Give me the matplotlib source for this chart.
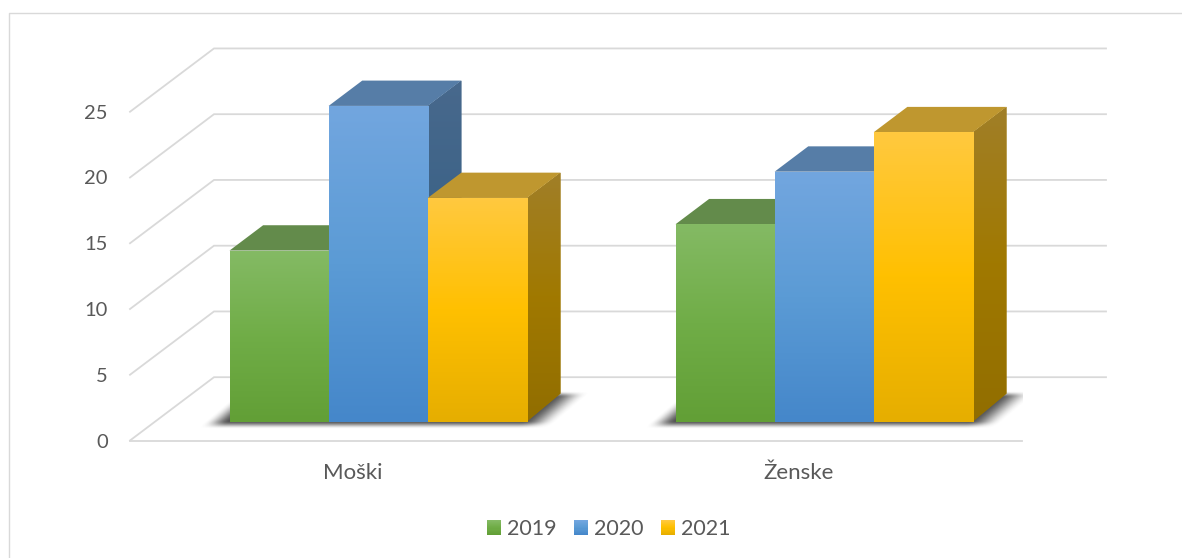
import numpy as np
import matplotlib
matplotlib.use("Agg")
import matplotlib.pyplot as plt
from matplotlib.colors import LinearSegmentedColormap
from matplotlib.legend_handler import HandlerBase
from matplotlib.lines import Line2D
from matplotlib.patches import Polygon, Rectangle

categories = ["Moški", "Ženske"]
years = ["2019", "2020", "2021"]
values_2019 = [13, 15]
values_2020 = [24, 19]
values_2021 = [17, 22]
y_ticks = [0, 5, 10, 15, 20, 25]

plt.rcParams["font.family"] = ["Lato", "DejaVu Sans"]

GRID = "#D9D9D9"
TEXT = "#595959"
BAR_W = 1 / 4.5
DEPTH_X = 84 / 446
DEPTH_Y = 63.3 / 13.15
FRONT = 0.3
BACK = 0.7
Y_MAX = 30  # room above the front plane for the back wall

# top, middle, bottom of the vertical gradient on each series
gradients = [
    ["#84BA64", "#70AD47", "#629F36"],
    ["#72A6DF", "#5B9BD5", "#4587CA"],
    ["#FFC93F", "#FFC000", "#E6AE00"],
]


def darker(cmap, factor):
    pts = [tuple(c * factor for c in cmap(v)[:3]) for v in (0.0, 0.5, 1.0)]
    return LinearSegmentedColormap.from_list("dark", pts)


def draw_gradient(ax, cmap, extent, clip, zorder):
    img = np.linspace(0, 1, 128).reshape(-1, 1)
    im = ax.imshow(img, cmap=cmap, extent=extent, aspect="auto", origin="upper", zorder=zorder,
                   vmin=0, vmax=1, interpolation="bilinear")
    im.set_clip_path(clip)


def smooth(t):
    t = np.clip(t, 0, 1)
    return t * t * (3 - 2 * t)


def draw_shadow(ax, x_left, x_right):
    # soft sheared shadow on the floor, under one group of bars
    base = FRONT * DEPTH_Y
    y0, y1 = base - 0.6, base + 0.4 * DEPTH_Y + 0.3
    px_x = 1 / 446
    x0, x1 = x_left - 40 * px_x, x_right + 90 * px_x
    xs = np.linspace(x0, x1, 500)
    ys = np.linspace(y0, y1, 120)
    xx, yy = np.meshgrid(xs, ys)
    depth = (yy - base) * 13.15 * 1.2 * px_x
    left = smooth((xx - depth - (x_left - 25 * px_x)) / (26 * px_x))
    right = smooth(((x_right + 30 * px_x) - (xx - depth)) / (34 * px_x))
    front = smooth((yy - y0) / 0.6)
    back = smooth((y1 - yy) / 0.45)
    rgba = np.zeros(xx.shape + (4,))
    rgba[..., :3] = 0.22
    rgba[..., 3] = 0.88 * left * right * front * back
    ax.imshow(rgba, extent=(x0, x1, y0, y1), origin="lower", aspect="auto", zorder=3)


class GradientHandle(HandlerBase):
    def create_artists(self, legend, orig, xdescent, ydescent, width, height, fontsize, trans):
        cmap = orig.cmap
        n = 14
        parts = []
        for i in range(n):
            parts.append(Rectangle((-xdescent, -ydescent + height * i / n), width, height / n + 0.3,
                                   facecolor=cmap(1 - i / (n - 1)), edgecolor="none", transform=trans))
        return parts


fig = plt.figure(figsize=(11.82, 5.58), dpi=100)
ax = fig.add_axes([130 / 1182, 1 - 440.5 / 558, 892 / 1182, Y_MAX * 13.15 / 558])
ax.set_autoscale_on(False)
ax.set_xlim(-0.5, 1.5)
ax.set_ylim(0, Y_MAX)

# back wall, side wall and floor
for v in y_ticks:
    ax.plot([-0.5, -0.5 + DEPTH_X, 1.5 + DEPTH_X], [v, v + DEPTH_Y, v + DEPTH_Y],
            color=GRID, lw=1.3, clip_on=False, zorder=1, solid_joinstyle="miter")
ax.plot([-0.5, 1.5], [0, 0], color=GRID, lw=1.3, clip_on=False, zorder=1)

x = np.arange(len(categories))
series = [values_2019, values_2020, values_2021]
cmaps = [LinearSegmentedColormap.from_list(y, [g[0], g[1], g[2]]) for y, g in zip(years, gradients)]

for c in x:
    draw_shadow(ax, c - 1.5 * BAR_W + FRONT * DEPTH_X, c + 1.5 * BAR_W + FRONT * DEPTH_X)

z = 4
for s, vals in enumerate(series):
    for c, v in zip(x, vals):
        xc = c + (s - 1) * BAR_W + FRONT * DEPTH_X
        rect = ax.bar(xc, v, BAR_W, bottom=FRONT * DEPTH_Y, color=gradients[s][1], zorder=z)[0]
        l, r = rect.get_x(), rect.get_x() + rect.get_width()
        b, t = rect.get_y(), rect.get_y() + rect.get_height()
        dx = (BACK - FRONT) * DEPTH_X
        dy = (BACK - FRONT) * DEPTH_Y

        side = Polygon([(r, t), (r + dx, t + dy), (r + dx, b + dy + 0.2), (r, b)], closed=True,
                       facecolor=darker(cmaps[s], 0.62)(0.5), edgecolor="none", zorder=z)
        ax.add_patch(side)
        draw_gradient(ax, darker(cmaps[s], 0.63), (r, r + dx, b, t + dy), side, z)

        ax.add_patch(Polygon([(l, t), (l + dx, t + dy), (r + dx, t + dy), (r, t)], closed=True,
                             facecolor=darker(cmaps[s], 0.75)(0.0), edgecolor="none", zorder=z))
        draw_gradient(ax, cmaps[s], (l, r, b, t), rect, z + 0.1)
        z += 1

ax.set_xlim(-0.5, 1.5)
ax.set_ylim(0, Y_MAX)
ax.set_xticks(x, categories)
ax.set_yticks(y_ticks)
ax.tick_params(axis="y", length=0, labelsize=14.5, labelcolor=TEXT, pad=16)
ax.tick_params(axis="x", length=0, labelsize=16, labelcolor=TEXT, pad=16)
for sp in ax.spines.values():
    sp.set_visible(False)
ax.patch.set_visible(False)

handles = [Rectangle((0, 0), 1, 1) for _ in years]
for h, cm in zip(handles, cmaps):
    h.cmap = cm
leg = fig.legend(handles, years, loc="center", bbox_to_anchor=(608.5 / 1182, 1 - 529 / 558), ncol=3,
                 frameon=False, fontsize=15.5, labelcolor=TEXT, handlelength=0.66, handleheight=0.66,
                 handletextpad=0.27, columnspacing=0.82,
                 handler_map={Rectangle: GradientHandle()})

# chart frame, cut by the image on the right and at the bottom
fig.add_artist(Line2D([8.5 / 1182, 8.5 / 1182, 1], [0, 1 - 12.5 / 558, 1 - 12.5 / 558],
                      color=GRID, lw=1.0, transform=fig.transFigure))

fig.savefig("out.png", dpi=100)
